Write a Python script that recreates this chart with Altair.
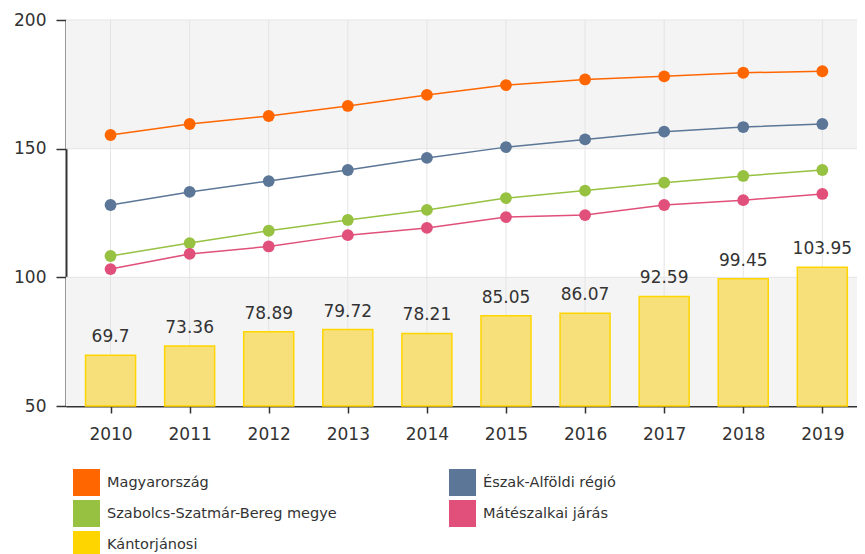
import altair as alt
import pandas as pd

years = [2010, 2011, 2012, 2013, 2014, 2015, 2016, 2017, 2018, 2019]
series_names = ["Magyarország", "Észak-Alföldi régió", "Szabolcs-Szatmár-Bereg megye",
                "Mátészalkai járás", "Kántorjánosi"]
colors = ["#FF6600", "#5B7697", "#96C141", "#E0507A", "#FFD500"]

magyarorszag = [155.3, 159.6, 162.7, 166.6, 170.9, 174.7, 176.9, 178.1, 179.5, 180.1]
eszak_alfold = [128.1, 133.2, 137.4, 141.7, 146.4, 150.6, 153.6, 156.6, 158.4, 159.6]
szabolcs = [108.3, 113.3, 118.1, 122.3, 126.2, 130.8, 133.7, 136.8, 139.4, 141.7]
mateszalka = [103.2, 109.1, 112.0, 116.4, 119.2, 123.4, 124.2, 128.1, 130.0, 132.4]
kantorjanosi = [69.7, 73.36, 78.89, 79.72, 78.21, 85.05, 86.07, 92.59, 99.45, 103.95]
kantorjanosi_labels = ["69.7", "73.36", "78.89", "79.72", "78.21", "85.05",
                       "86.07", "92.59", "99.45", "103.95"]

y_ticks = [50, 100, 150, 200]
band_lo = [50, 150]
band_hi = [100, 200]

FONT = "DejaVu Sans"
TXT = "#333333"
W, H = 791, 386
STEP = 80.1

line_rows = []
for name, vals in zip(series_names[:4], [magyarorszag, eszak_alfold, szabolcs, mateszalka]):
    for yr, v in zip(years, vals):
        line_rows.append({"ev": yr, "ertek": v, "sorozat": name})
lines_df = pd.DataFrame(line_rows)
bars_df = pd.DataFrame({"ev": years, "ertek": kantorjanosi, "cimke": kantorjanosi_labels})
bands_df = pd.DataFrame({"lo": band_lo, "hi": band_hi})
vgrid_df = pd.DataFrame({"ev": years})
hgrid_df = pd.DataFrame({"y": y_ticks[1:]})

x_scale = alt.Scale(domain=[2009.5, 2009.5 + W / STEP], nice=False, zero=False)
y_scale = alt.Scale(domain=[50, 200], nice=False, zero=False)

x_axis = alt.Axis(values=years, format="d", title=None, grid=False, tickSize=7,
                  labelPadding=13, labelFontSize=17, labelFont=FONT, labelColor=TXT,
                  domainColor="#333333", domainWidth=2, tickColor="#333333", tickWidth=1.5)
y_axis = alt.Axis(values=y_ticks, title=None, grid=False, tickSize=10, labelPadding=10,
                  labelFontSize=17, labelFont=FONT, labelColor=TXT,
                  domainColor="#333333", domainWidth=2, tickColor="#333333", tickWidth=1.5)

bands = alt.Chart(bands_df).mark_rect(color="#F4F4F4").encode(
    y=alt.Y("lo:Q", scale=y_scale, axis=y_axis),
    y2="hi:Q",
    x=alt.value(0),
    x2=alt.value(W),
)

vgrid = alt.Chart(vgrid_df).mark_rule(color="#E4E4E4", strokeWidth=1).encode(
    x=alt.X("ev:Q", scale=x_scale, axis=x_axis)
)
hgrid = alt.Chart(hgrid_df).mark_rule(color="#E4E4E4", strokeWidth=1).encode(
    y=alt.Y("y:Q", scale=y_scale)
)

bars = alt.Chart(bars_df).mark_bar(size=50, color="#F7E07A", stroke="#FFD500",
                                   strokeWidth=1.5).encode(
    x=alt.X("ev:Q", scale=x_scale),
    y=alt.Y("ertek:Q", scale=y_scale),
    y2=alt.datum(50),
)

bar_text = alt.Chart(bars_df).mark_text(font=FONT, fontSize=17, color=TXT,
                                        baseline="alphabetic", dy=-13).encode(
    x=alt.X("ev:Q", scale=x_scale),
    y=alt.Y("ertek:Q", scale=y_scale),
    text="cimke:N",
)

color_enc = alt.Color(
    "sorozat:N",
    scale=alt.Scale(domain=series_names, range=colors),
    legend=alt.Legend(
        title=None, orient="none", legendX=7, legendY=449, columns=2,
        direction="horizontal",
        symbolType="square", symbolSize=729, symbolStrokeWidth=0, symbolOpacity=1,
        labelFont=FONT, labelFontSize=14.5, labelColor=TXT, labelOffset=7,
        columnPadding=112, rowPadding=4, padding=0, labelLimit=400,
    ),
)

lines = alt.Chart(lines_df).mark_line(strokeWidth=1.5).encode(
    x=alt.X("ev:Q", scale=x_scale),
    y=alt.Y("ertek:Q", scale=y_scale),
    color=color_enc,
)
points = alt.Chart(lines_df).mark_circle(size=140, opacity=1).encode(
    x=alt.X("ev:Q", scale=x_scale),
    y=alt.Y("ertek:Q", scale=y_scale),
    color=alt.Color("sorozat:N", scale=alt.Scale(domain=series_names, range=colors),
                    legend=None),
)

chart = alt.layer(bands, vgrid, hgrid, bars, bar_text, lines, points).properties(
    width=W, height=H,
    autosize=alt.AutoSizeParams(type="none"),
    padding={"left": 58, "top": 12, "right": 0, "bottom": 148},
).configure_view(stroke=None).configure(background="white")

chart.save("out.html", embed_options={"renderer": "svg", "actions": False})
